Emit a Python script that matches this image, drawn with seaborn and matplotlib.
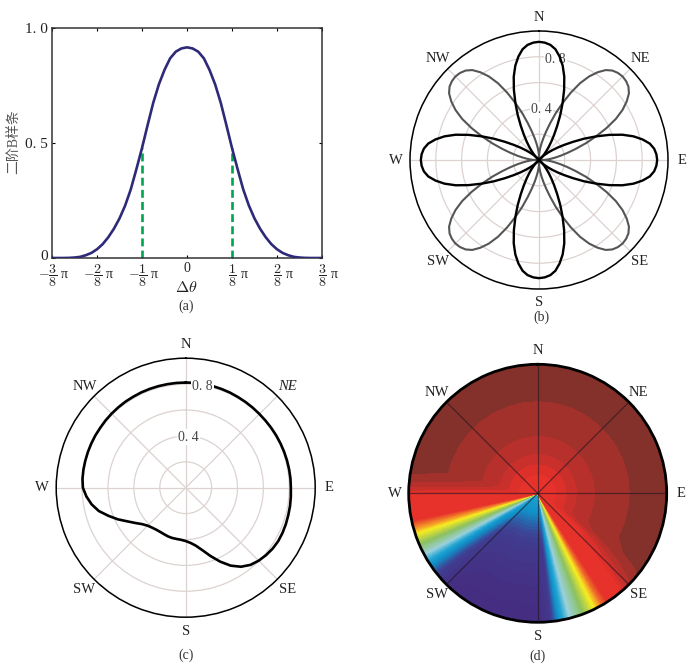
import matplotlib
matplotlib.use('Agg')
import matplotlib.pyplot as plt
import matplotlib.transforms as mtrans
from matplotlib.colors import LinearSegmentedColormap
import seaborn as sns
import pandas as pd
import numpy as np

# spline curve, x in units of pi/8 (right half, it is symmetric)
spline_x_half = [0, .125, .25, .375, .5, .625, .75, .875, 1, 1.125, 1.25, 1.375, 1.5,
                 1.625, 1.75, 1.875, 2, 2.125, 2.25, 2.375, 2.5, 2.625, 2.75, 2.875, 3]
spline_y_half = [.916, .911, .897, .868, .818, .755, .675, .578, .478, .386, .298, .228, .172,
                 .127, .09, .06, .038, .022, .012, .005, .002, .0005, 0, 0, 0]
marker_x = [-1, 1]
marker_y = [.478, .478]

x_ticks = [-3, -2, -1, 0, 1, 2, 3]
x_ticklabels = [r'$-\dfrac{3}{8}$ π', r'$-\dfrac{2}{8}$ π', r'$-\dfrac{1}{8}$ π', '0',
                r'$\dfrac{1}{8}$ π', r'$\dfrac{2}{8}$ π', r'$\dfrac{3}{8}$ π']
x_label_shift = [2, 2, 2, 0, 6, 6, 6]
y_ticks = [0, .5, 1]
y_ticklabels = ['0', '0. 5', '1. 0']

compass_deg = [0, 45, 90, 135, 180, 225, 270, 315]
compass_names = ['N', 'NE', 'E', 'SE', 'S', 'SW', 'W', 'NW']
ring_r = [.2, .4, .6, .8]
lobes_black = [0, 90, 180, 270]
lobes_grey = [45, 135, 225, 315]

# panel (c) radius every 5 degrees, clockwise from N
dir_deg = list(range(0, 365, 5))
dir_r = [.812, .813, .813, .812, .811, .810, .808, .807, .806, .805, .805, .806, .807, .808, .809,
         .810, .811, .812, .812, .815, .818, .820, .823, .825, .825, .820, .810, .797, .778, .745,
         .695, .630, .562, .500, .455, .428, .412, .404, .402, .402, .400, .396, .394, .396, .403,
         .415, .438, .475, .520, .578, .635, .695, .738, .770, .794, .800, .802, .803, .804, .805,
         .806, .806, .808, .809, .810, .811, .811, .812, .812, .812, .812, .812, .812]

# panel (d) field, one row per angle, columns are field_r
field_r = [0, .15, .23, .31, .45, .72, 1]
ring_row = [.72, .75, .80, .85, .90, .95, .98]
field_theta = [0, 10, 20, 30, 40, 50, 60, 70, 80, 90, 100, 110, 118,
               124, 127, 130, 133, 136, 139, 143, 147, 150, 153.5, 159, 165.3, 169.3, 172, 174.5,
               180, 200, 215, 224, 228, 232, 236.5, 242, 247, 252, 254, 258, 262, 266,
               270, 271.5, 273.5, 275.5, 279, 283, 290, 300, 310, 320, 330, 340, 350, 360]
field_rows = [ring_row] * 13 + [
    [.72, .74, .77, .82, .885, .94, .975],
    [.72, .735, .74, .75, .815, .91, .96],
    [.72, .73, .735, .74, .75, .865, .945],
    [.72, .725, .73, .735, .74, .805, .91],
    [.72, .72, .725, .73, .735, .755, .85],
    [.71, .72, .72, .72, .72, .73, .75],
    [.71, .71, .71, .71, .71, .71, .71],
    [.68, .68, .68, .68, .68, .68, .68],
    [.62, .62, .62, .62, .62, .62, .62],
    [.50, .50, .50, .50, .50, .50, .50],
    [.40, .40, .40, .40, .40, .40, .40],
    [.30, .30, .30, .30, .30, .30, .30],
    [.20, .20, .20, .20, .20, .20, .20],
    [.18, .14, .12, .12, .12, .12, .12],
    [.20, .16, .12, .09, .05, .05, .05],
    [.22, .16, .12, .09, .05, .02, 0],
    [.22, .16, .12, .09, .05, .02, 0],
    [.22, .16, .12, .09, .05, .02, 0],
    [.22, .17, .13, .10, .06, .03, .01],
    [.22, .18, .15, .12, .08, .05, .03],
    [.22, .20, .17, .15, .12, .09, .08],
    [.24, .22, .20, .18, .17, .16, .16],
    [.30, .30, .30, .30, .30, .30, .30],
    [.40, .40, .40, .40, .40, .40, .40],
    [.50, .50, .50, .50, .50, .50, .50],
    [.58, .58, .58, .58, .58, .58, .58],
    [.68, .68, .68, .68, .68, .68, .68],
    [.71, .71, .71, .71, .71, .71, .71],
    [.72, .72, .72, .72, .72, .72, .72],
    [.72, .73, .73, .73, .73, .73, .73],
    [.72, .74, .745, .75, .76, .78, .80],
    [.72, .75, .77, .78, .80, .83, .855],
    [.72, .75, .79, .805, .83, .87, .905],
    [.72, .75, .80, .835, .87, .92, .95],
] + [ring_row] * 9

field_levels = [i / 100 for i in range(0, 73)] + [.75, .80, .85, .90, .95, 1.0]
field_colors = [(0, '#452c80'), (.08, '#3f3f92'), (.16, '#1090c8'), (.22, '#22a5d2'), (.30, '#9ad0dc'),
                (.40, '#8cc060'), (.50, '#f7ec20'), (.58, '#f5a028'), (.68, '#e6322a'), (.735, '#e6322b'),
                (.775, '#dd302b'), (.825, '#ca302b'), (.875, '#b8302c'), (.925, '#a2312c'),
                (.975, '#85312b'), (1, '#85312b')]

W, H = 700, 664

sns.set_theme(style='white')
plt.rcParams['font.family'] = ['Liberation Serif', 'Noto Sans CJK SC']
plt.rcParams['mathtext.fontset'] = 'cm'
plt.rcParams['axes.unicode_minus'] = False
text_color = '#222222'


def px_axes(fig, x0, y0, x1, y1, **kw):
    return fig.add_axes([x0 / W, 1 - y1 / H, (x1 - x0) / W, (y1 - y0) / H], **kw)


def compass_axes(fig, cx, cy, radius, spine_width=1.1):
    ax = px_axes(fig, cx - radius, cy - radius, cx + radius, cy + radius, projection='polar')
    ax.set_theta_zero_location('N')
    ax.set_theta_direction(-1)
    ax.set_thetagrids(compass_deg, compass_names, fontsize=10.5, color=text_color)
    ax.set_rgrids(ring_r, [''] * len(ring_r))
    ax.set_rlim(0, 1)
    ax.tick_params(axis='x', pad=-3)
    ax.grid(True, color='#dcd3d0', linewidth=.9)
    ax.spines['polar'].set_color('black')
    ax.spines['polar'].set_linewidth(spine_width)
    ax.set_facecolor('white')
    return ax


def ring_labels(ax, top):
    for value, text, deg in [(.79, '0. 8', 9.4), (.39, '0. 4', 3.0)]:
        ax.text(np.deg2rad(deg), value, text, fontsize=10, color='#444444', ha='center', va='center',
                zorder=top, bbox=dict(facecolor='white', edgecolor='none', pad=1))


def plot_spline(fig):
    ax = px_axes(fig, 52, 28, 322, 258)
    xs = [-x for x in spline_x_half[:0:-1]] + spline_x_half
    ys = spline_y_half[:0:-1] + spline_y_half
    sns.lineplot(x=xs, y=ys, ax=ax, color='#2e2a78', linewidth=1.9, sort=False, estimator=None, zorder=3)
    for x, y in zip(marker_x, marker_y):
        sns.lineplot(x=[x, x], y=[0, y], ax=ax, color='#00a550', linewidth=1.9, linestyle=(0, (3, 1.6)),
                     estimator=None, zorder=2)
    ax.set_xlim(-3, 3)
    ax.set_ylim(0, 1)
    ax.set_xticks(x_ticks, x_ticklabels, fontsize=10, color=text_color)
    ax.set_yticks(y_ticks, y_ticklabels, fontsize=11, color=text_color)
    ax.tick_params(direction='in', length=2.5, width=.8, color='black', top=True, right=True,
                   bottom=True, left=True, pad=3)
    for label, shift in zip(ax.get_xticklabels(), x_label_shift):
        label.set_transform(label.get_transform() + mtrans.Affine2D().translate(shift, 0))
    zero_label = ax.get_yticklabels()[0]
    zero_label.set_transform(zero_label.get_transform() + mtrans.Affine2D().translate(0, 3))
    for spine in ax.spines.values():
        spine.set_color('#333333')
        spine.set_linewidth(1.1)
    fig.text(14 / W, 1 - 142 / H, '二阶B样条', rotation=90, fontsize=10, color='#555555', ha='center', va='center')
    fig.text(186 / W, 1 - 288 / H, r'$\Delta\theta$', fontsize=11.5, color=text_color, ha='center', va='center')


def plot_lobes(fig):
    ax = compass_axes(fig, 539, 160, 129)
    deltas = np.array([-x for x in spline_x_half[:0:-1]] + spline_x_half) * np.pi / 8
    ys = spline_y_half[:0:-1] + spline_y_half
    ring_labels(ax, 1.5)
    for deg in lobes_grey:
        sns.lineplot(x=np.deg2rad(deg) + deltas, y=ys, ax=ax, color='#555555', linewidth=1.5,
                     sort=False, estimator=None, zorder=3)
    for deg in lobes_black:
        sns.lineplot(x=np.deg2rad(deg) + deltas, y=ys, ax=ax, color='black', linewidth=1.7,
                     sort=False, estimator=None, zorder=4)
    ax.set_rlim(0, 1)


def plot_direction(fig):
    ax = compass_axes(fig, 185.7, 487.7, 129.5)
    ax.get_xticklabels()[1].set_fontstyle('italic')
    sns.lineplot(x=np.deg2rad(dir_deg), y=dir_r, ax=ax, color='black', linewidth=1.9,
                 sort=False, estimator=None, zorder=3)
    ring_labels(ax, 5)
    ax.set_rlim(0, 1)


def plot_field(fig):
    ax = compass_axes(fig, 537.7, 493.3, 129, spine_width=2.0)
    cmap = LinearSegmentedColormap.from_list('field', field_colors, N=512)
    cs = ax.contourf(np.deg2rad(field_theta), field_r, np.array(field_rows).T,
                     levels=field_levels, cmap=cmap, vmin=0, vmax=1)
    cs.set_edgecolor('face')
    cs.set_linewidth(.3)
    ax.yaxis.grid(False)
    ax.xaxis.grid(True, color='#1e1420', alpha=.6, linewidth=.9)
    ax.set_axisbelow(False)
    ax.set_rlim(0, 1)


fig = plt.figure(figsize=(W / 100, H / 100), dpi=100)
plot_spline(fig)
plot_lobes(fig)
plot_direction(fig)
plot_field(fig)

for text, x, y in [('(a)', 186, 306), ('(b)', 541, 317), ('(c)', 186, 655), ('(d)', 538, 656)]:
    fig.text(x / W, 1 - y / H, text, fontsize=10, color='#333333', ha='center', va='center')

fig.savefig('out.png', dpi=100)
plt.close()
